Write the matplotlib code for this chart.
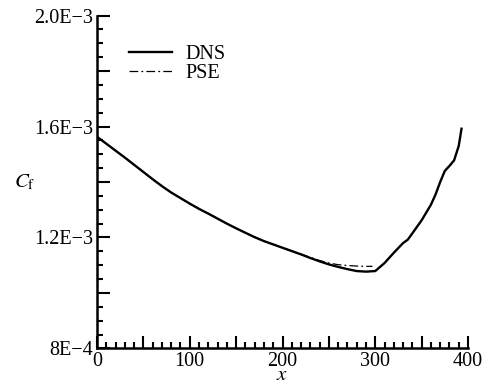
import numpy as np
import matplotlib
matplotlib.use("Agg")
import matplotlib.pyplot as plt
from matplotlib.ticker import MultipleLocator, FuncFormatter

plt.rcParams['font.family'] = ['Liberation Serif', 'DejaVu Serif']
plt.rcParams['mathtext.fontset'] = 'stix'

# skin friction (units of 1E-3)
x_dns = [0, 10, 20, 30, 40, 50, 60, 70, 80, 90, 100, 110, 120, 130, 140, 150,
         160, 170, 180, 190, 200, 210, 220, 230, 240, 250, 260, 270, 280, 290,
         300, 310, 320, 330, 335, 340, 350, 360, 365, 370, 375, 380, 385, 390, 393]
cf_dns = [1.563, 1.538, 1.513, 1.488, 1.462, 1.436, 1.410, 1.385, 1.362, 1.342,
          1.322, 1.303, 1.286, 1.268, 1.250, 1.233, 1.217, 1.201, 1.187, 1.175,
          1.163, 1.151, 1.139, 1.126, 1.114, 1.103, 1.094, 1.086, 1.079, 1.077,
          1.079, 1.108, 1.145, 1.180, 1.192, 1.215, 1.262, 1.318, 1.355, 1.400,
          1.440, 1.458, 1.478, 1.530, 1.592]

x_pse = [0, 20, 40, 60, 80, 100, 120, 140, 160, 180, 200, 220, 240, 250, 260,
         270, 280, 290, 297]
cf_pse = [1.563, 1.513, 1.462, 1.410, 1.362, 1.322, 1.286, 1.250, 1.217, 1.187,
          1.163, 1.140, 1.117, 1.108, 1.102, 1.099, 1.097, 1.096, 1.096]

fig = plt.figure(figsize=(4.93, 3.86), dpi=100)
ax = fig.add_axes([0.1968, 0.0972, 0.7525, 0.8626])

ax.plot(x_dns, np.array(cf_dns) * 1e-3, color='black', lw=1.7, label='DNS')
ax.plot(x_pse, np.array(cf_pse) * 1e-3, color='black', lw=0.9,
        linestyle=(0, (7, 2.5, 1.5, 2.5)), label='PSE')

ax.set_xlim(0, 400)
ax.set_ylim(0.8e-3, 2.0e-3)

ax.spines['top'].set_visible(False)
ax.spines['right'].set_visible(False)
ax.spines['left'].set_linewidth(1.8)
ax.spines['bottom'].set_linewidth(1.8)

ax.xaxis.set_major_locator(MultipleLocator(50))
ax.xaxis.set_minor_locator(MultipleLocator(10))
ax.yaxis.set_major_locator(MultipleLocator(0.2e-3))
ax.yaxis.set_minor_locator(MultipleLocator(0.05e-3))


def xfmt(v, pos):
    return '%d' % v if round(v) % 100 == 0 else ''


def yfmt(v, pos):
    labels = {8: '8E\u22124', 12: '1.2E\u22123', 16: '1.6E\u22123', 20: '2.0E\u22123'}
    return labels.get(int(round(v * 1e4)), '')


ax.xaxis.set_major_formatter(FuncFormatter(xfmt))
ax.yaxis.set_major_formatter(FuncFormatter(yfmt))
ax.tick_params(which='both', direction='in', width=1.5, labelsize=14.5)
ax.tick_params(axis='y', pad=3)
ax.tick_params(axis='x', pad=2.5)
ax.tick_params(which='major', length=9)
ax.tick_params(which='minor', length=4.5)

fig.text(282 / 493, 1 - 376 / 386, '$x$', fontsize=15, ha='center', va='center')
fig.text(25 / 493, 1 - 182 / 386, r'$C_\mathrm{f}$', fontsize=15,
         ha='center', va='center')

ax.legend(loc='upper left', bbox_to_anchor=(0.086, 0.912), frameon=False,
          fontsize=14.5, handlelength=2.15, handletextpad=0.65, labelspacing=0.0,
          borderpad=0, borderaxespad=0)

fig.savefig('out.png', dpi=100)
